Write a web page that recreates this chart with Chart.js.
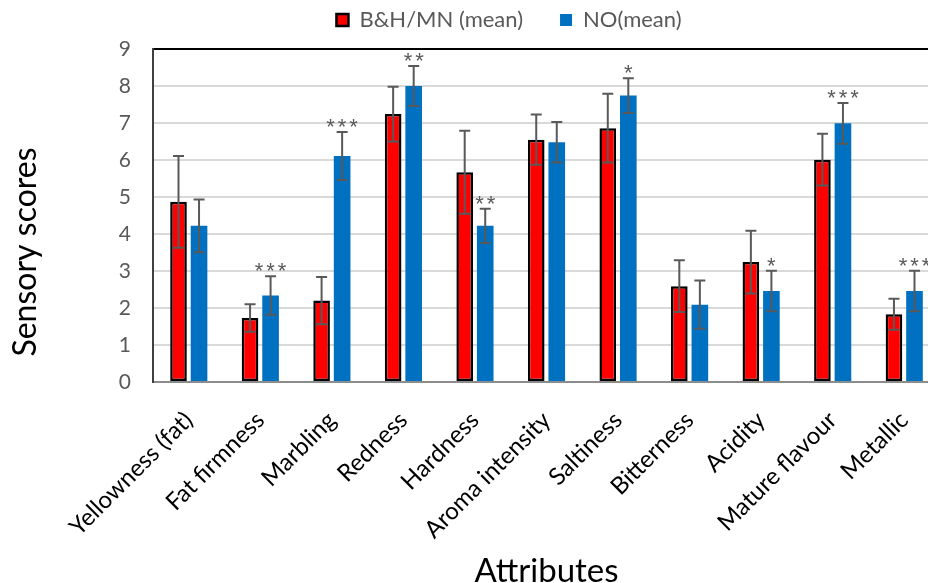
<!DOCTYPE html>
<html>
<head>
<meta charset="utf-8">
<script src="https://cdn.jsdelivr.net/npm/chart.js@4.4.1/dist/chart.umd.min.js"></script>
<style>
  html, body { margin: 0; padding: 0; overflow: hidden; background: #fff; }
  #wrap { width: 945px; height: 583px; }
</style>
</head>
<body>
<div id="wrap"><canvas id="myChart"></canvas></div>
<script>
// Atributos sensoriales y medias / desviaciones
const attributes = ['Yellowness (fat)', 'Fat firmness', 'Marbling', 'Redness', 'Hardness', 'Aroma intensity', 'Saltiness', 'Bitterness', 'Acidity', 'Mature flavour', 'Metallic']
const bhMean = [4.87, 1.73, 2.20, 7.24, 5.67, 6.55, 6.86, 2.59, 3.24, 6.01, 1.83]
const bhSd = [1.24, 0.37, 0.64, 0.74, 1.12, 0.68, 0.93, 0.70, 0.85, 0.70, 0.42]
const noMean = [4.22, 2.34, 6.11, 8.00, 4.22, 6.48, 7.74, 2.09, 2.46, 6.99, 2.46]
const noSd = [0.71, 0.52, 0.65, 0.54, 0.46, 0.55, 0.47, 0.65, 0.55, 0.55, 0.55]
const significance = ['', '***', '***', '**', '**', '', '*', '', '*', '***', '***']
const yTicks = [0, 1, 2, 3, 4, 5, 6, 7, 8, 9]

const fontFamily = 'Lato, "Liberation Sans", sans-serif'
const padLeft = 78 // deja centrar la leyenda como en el original

// Barras de error y asteriscos, dibujados con las escalas de Chart.js
const errorBarsPlugin = {
    id: 'errorBars',
    afterDatasetsDraw(chart) {
        const { ctx, scales: { y } } = chart
        const sds = [bhSd, noSd]
        ctx.save()
        ctx.strokeStyle = '#595959'
        ctx.lineWidth = 2
        chart.data.datasets.forEach((ds, i) => {
            const meta = chart.getDatasetMeta(i)
            meta.data.forEach((bar, j) => {
                const top = y.getPixelForValue(ds.data[j] + sds[i][j])
                const bottom = y.getPixelForValue(ds.data[j] - sds[i][j])
                ctx.beginPath()
                ctx.moveTo(bar.x, top)
                ctx.lineTo(bar.x, bottom)
                ctx.moveTo(bar.x - 5.5, top)
                ctx.lineTo(bar.x + 5.5, top)
                ctx.moveTo(bar.x - 5.5, bottom)
                ctx.lineTo(bar.x + 5.5, bottom)
                ctx.stroke()
                // asteriscos sobre la serie NO
                if (i === 1 && significance[j]) {
                    const n = significance[j].length
                    ctx.fillStyle = '#595959'
                    ctx.font = '22px "Liberation Sans", sans-serif'
                    ctx.textAlign = 'center'
                    ctx.textBaseline = 'alphabetic'
                    for (let k = 0; k < n; k++) {
                        ctx.fillText('*', bar.x + (k - (n - 1) / 2) * 11.5, top + 2)
                    }
                }
            })
        })
        ctx.restore()
    },
    afterDraw(chart) {
        // titulo del eje Y
        const { ctx } = chart
        ctx.save()
        ctx.translate(26, 252)
        ctx.rotate(-Math.PI / 2)
        ctx.fillStyle = '#000'
        ctx.font = '32px ' + fontFamily
        ctx.textAlign = 'center'
        ctx.textBaseline = 'middle'
        ctx.fillText('Sensory scores', 0, 0)
        ctx.restore()
    }
}

const ctx = document.getElementById('myChart').getContext('2d')
const myChart = new Chart(ctx, {
    type: 'bar',
    data: {
        labels: attributes,
        datasets: [{
            label: 'B&H/MN (mean)',
            data: bhMean,
            backgroundColor: '#FF0000',
            borderColor: '#000000',
            borderWidth: 2.5,
            borderSkipped: false,
            categoryPercentage: 0.574,
            barPercentage: 0.81
        }, {
            label: 'NO(mean)',
            data: noMean,
            backgroundColor: '#0070C0',
            borderWidth: 0,
            categoryPercentage: 0.574,
            barPercentage: 0.81
        }]
    },
    options: {
        responsive: true,
        maintainAspectRatio: false,
        animation: false,
        layout: { padding: { top: -28, left: padLeft, right: 5, bottom: 0 } },
        plugins: {
            legend: {
                position: 'top',
                labels: {
                    color: '#595959',
                    font: { family: fontFamily, size: 22 },
                    boxWidth: 12,
                    boxHeight: 12,
                    padding: 37
                }
            },
            tooltip: { enabled: false }
        },
        scales: {
            x: {
                grid: { display: false },
                border: { color: '#8c8c8c', width: 2 },
                ticks: {
                    color: '#000',
                    font: { family: fontFamily, size: 24 },
                    minRotation: 45,
                    maxRotation: 45,
                    autoSkip: false,
                    padding: 16
                },
                title: {
                    display: true,
                    text: 'Attributes',
                    color: '#000',
                    font: { family: fontFamily, size: 33 },
                    padding: { top: 0, bottom: -8 }
                },
                afterFit: s => { s.height = 201 }
            },
            xTop: {
                type: 'category',
                position: 'top',
                labels: attributes,
                grid: { display: false },
                border: { display: false },
                ticks: { display: false },
                afterFit: s => { s.height = 8 }
            },
            y: {
                min: 0,
                max: 9,
                afterBuildTicks: s => { s.ticks = yTicks.map(v => ({ value: v })) },
                grid: {
                    color: c => (c.tick && c.tick.value === 9 ? '#000000' : '#d9d9d9'),
                    lineWidth: 2,
                    drawTicks: false
                },
                border: { color: '#404040', width: 2 },
                ticks: {
                    color: '#595959',
                    font: { family: fontFamily, size: 21 },
                    padding: 22
                },
                afterFit: s => { s.width = 153 - padLeft }
            }
        }
    },
    plugins: [errorBarsPlugin]
})
myChart.render()
</script>
</body>
</html>
